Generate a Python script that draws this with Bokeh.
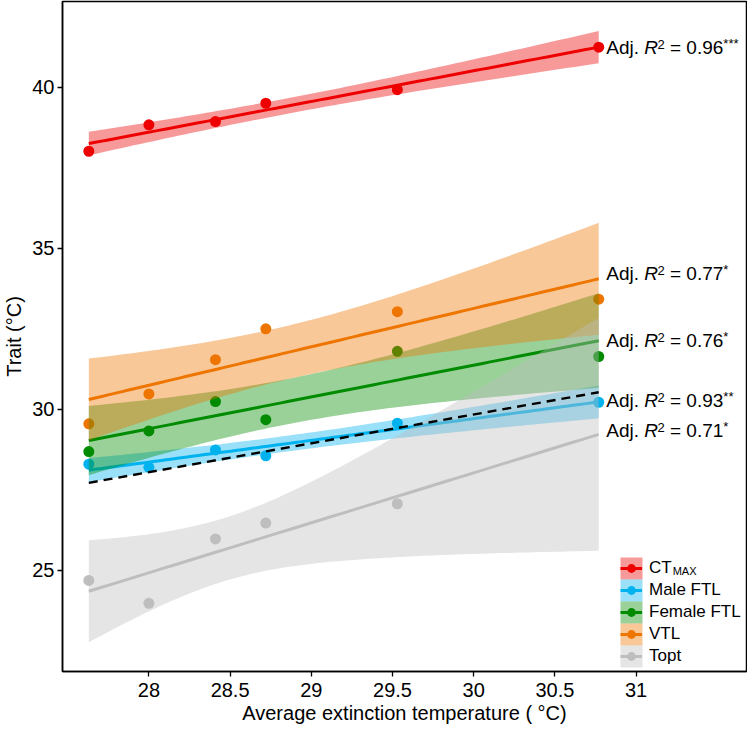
import numpy as np
from bokeh.plotting import figure
from bokeh.models import Range1d, FixedTicker, Legend, LegendItem, Label, BoxAnnotation
from bokeh.embed import file_html
from bokeh.resources import INLINE

# ---------------- data ----------------
x_temp = [27.63, 28.0, 28.41, 28.72, 29.53, 30.77]          # average extinction temperature
series_names = ["CTmax", "Male FTL", "Female FTL", "VTL", "Topt"]
legend_labels = ["CT", "Male FTL", "Female FTL", "VTL", "Topt"]
ctmax = [38.01, 38.83, 38.93, 39.50, 39.92, 41.24]
male_ftl = [28.30, 28.20, 28.74, 28.56, 29.57, 30.22]
female_ftl = [28.69, 29.33, 30.24, 29.68, 31.80, 31.64]
vtl = [29.55, 30.48, 31.54, 32.50, 33.03, 33.42]
topt = [24.69, 23.98, 25.98, 26.47, 27.07, None]
adj_r2 = ["0.96", "0.93", "0.76", "0.77", "0.71"]
signif = ["***", "**", "*", "*", "*"]
ref_x = [27.63, 30.77]          # dashed reference line ends
ref_y = [27.72, 30.53]
x_ticks = [28, 28.5, 29, 29.5, 30, 30.5, 31]
x_tick_labels = ["28", "28.5", "29", "29.5", "30", "30.5", "31"]
y_ticks = [25, 30, 35, 40]
y_tick_labels = ["25", "30", "35", "40"]

# ---------------- styles ----------------
colors = ["#EE0000", "#00B2EE", "#008B00", "#EE7600", "#BEBEBE"]
label_nudge = [0, 1, 0, 5, 4]     # px upward nudges of the R2 labels
FONT = "Liberation Sans"
series_values = [ctmax, male_ftl, female_ftl, vtl, topt]

T_CRIT = {3: 3.182446, 4: 2.776445}


def fit_band(xs, ys, grid):
    xs = np.asarray(xs, float)
    ys = np.array([np.nan if v is None else v for v in ys], float)
    m = ~np.isnan(ys)
    x, y = xs[m], ys[m]
    n = len(x)
    b, a = np.polyfit(x, y, 1)
    s = np.sqrt(np.sum((y - (a + b * x)) ** 2) / (n - 2))
    sxx = np.sum((x - x.mean()) ** 2)
    se = s * np.sqrt(1.0 / n + (grid - x.mean()) ** 2 / sxx)
    f = a + b * grid
    t = T_CRIT[n - 2]
    return f, f - t * se, f + t * se


p = figure(width=747, height=731, output_backend="svg", toolbar_location=None,
           x_range=Range1d(27.468, 31.680), y_range=Range1d(21.864, 42.658),
           min_border_left=59, min_border_right=1, min_border_top=1, min_border_bottom=60)
p.xgrid.visible = False
p.ygrid.visible = False
p.outline_line_color = "black"
p.outline_line_width = 1.5
p.background_fill_color = "white"
p.border_fill_color = "white"

grid = np.linspace(min(x_temp), max(x_temp), 80)

# points first
pts = []
for vals, c in zip(series_values, colors):
    yv = [np.nan if v is None else v for v in vals]
    pts.append(p.scatter(x_temp, yv, size=11, fill_color=c, line_color=None))

bands, lines, ends = [], [], []
for vals, c in zip(series_values, colors):
    f, lo, hi = fit_band(x_temp, vals, grid)
    bands.append(p.varea(x=grid, y1=lo, y2=hi, fill_color=c, fill_alpha=0.4))
    lines.append(p.line(grid, f, line_color=c, line_width=3))
    ends.append((grid[-1], f[-1]))

p.line(ref_x, ref_y, line_color="black", line_width=2.4, line_dash="9 6")

# ---------------- rich R2 labels ----------------
ADV = {"A": .667, "d": .556, "j": .222, ".": .278, " ": .278, "R": .722, "2": .556,
       "=": .584, "0": .556, "1": .556, "3": .556, "6": .556, "7": .556, "9": .556, "*": .389,
       "C": .722, "T": .611}


def tw(s, fs):
    return sum(ADV.get(ch, .556) for ch in s) * fs


FS, FS2, FS3 = 19, 13, 13
for (xe, ye), r2, st, nud in zip(ends, adj_r2, signif, label_nudge):
    x0 = 7.5
    yb = nud
    pieces = []
    pieces.append(("Adj.", FS, "normal", x0, yb))
    xr = x0 + tw("Adj. ", FS)
    pieces.append(("R", FS, "italic", xr, yb))
    x2 = xr + tw("R", FS) - 0.5
    pieces.append(("2", FS2, "normal", x2, yb + 3))
    xe_ = x2 + tw("2", FS2) + tw(" ", FS)
    pieces.append(("=", FS, "normal", xe_, yb))
    xn = xe_ + tw("= ", FS)
    pieces.append((r2, FS, "normal", xn, yb))
    xs_ = xn + tw(r2, FS)
    pieces.append((st, FS3, "normal", xs_, yb + 4))
    for txt, fs, sty, dx, dy in pieces:
        p.add_layout(Label(x=xe, y=ye, x_units="data", y_units="data", text=txt,
                           x_offset=dx, y_offset=dy, text_font=FONT,
                           text_font_size=f"{fs}px", text_font_style=sty,
                           text_color="black", text_baseline="alphabetic",
                           text_align="left"))

# ---------------- axes ----------------
for ax in (p.xaxis[0], p.yaxis[0]):
    ax.axis_line_color = "black"
    ax.axis_line_width = 1.5
    ax.major_tick_line_color = "black"
    ax.major_tick_line_width = 1.3
    ax.major_tick_out = 5
    ax.major_tick_in = 0
    ax.minor_tick_out = 0
    ax.minor_tick_in = 0
    ax.major_label_text_font = FONT
    ax.major_label_text_font_size = "20px"
    ax.major_label_text_color = "black"
    ax.axis_label_text_font = FONT
    ax.axis_label_text_font_size = "20px"
    ax.axis_label_text_font_style = "normal"
    ax.axis_label_text_color = "black"

p.xaxis.ticker = FixedTicker(ticks=x_ticks)
p.xaxis.major_label_overrides = {t: l for t, l in zip(x_ticks, x_tick_labels)}
p.yaxis.ticker = FixedTicker(ticks=y_ticks)
p.yaxis.major_label_overrides = {t: l for t, l in zip(y_ticks, y_tick_labels)}
p.xaxis.axis_label = "Average extinction temperature ( \u00b0C)"
p.yaxis.axis_label = "Trait (\u00b0C)"
p.xaxis.major_label_standoff = 6
p.xaxis.axis_label_standoff = 2
p.yaxis.major_label_standoff = 3
p.yaxis.axis_label_standoff = 4

# ---------------- legend ----------------
GW, GH, LS = 22, 22, 7
LX, LY = 558, 4
n_items = len(legend_labels)
for i, c in enumerate(colors):
    p.add_layout(BoxAnnotation(left=LX, right=LX + GW,
                               bottom=LY + (n_items - 1 - i) * GH, top=LY + (n_items - i) * GH,
                               left_units="screen", right_units="screen",
                               bottom_units="screen", top_units="screen",
                               fill_color=c, fill_alpha=0.4, line_alpha=0))
items = [LegendItem(label=lab, renderers=[l, s])
         for lab, l, s in zip(legend_labels, lines, pts)]
legend = Legend(items=items, location=(LX, LY), orientation="vertical",
                glyph_width=GW, glyph_height=GH, label_height=GH, spacing=0,
                padding=0, margin=0, label_standoff=LS,
                label_text_font=FONT, label_text_font_size="17px",
                label_text_color="black",
                border_line_color=None, background_fill_alpha=0)
p.add_layout(legend)

row1_c = LY + (n_items - 0.5) * GH
p.add_layout(Label(x=LX + GW + LS + tw("CT", 17) + 0.5, y=row1_c - 2,
                   x_units="screen", y_units="screen", text="MAX",
                   text_font=FONT, text_font_size="11px", text_color="black",
                   text_baseline="alphabetic", text_align="left"))

open("out.html", "w").write(file_html(p, INLINE))
